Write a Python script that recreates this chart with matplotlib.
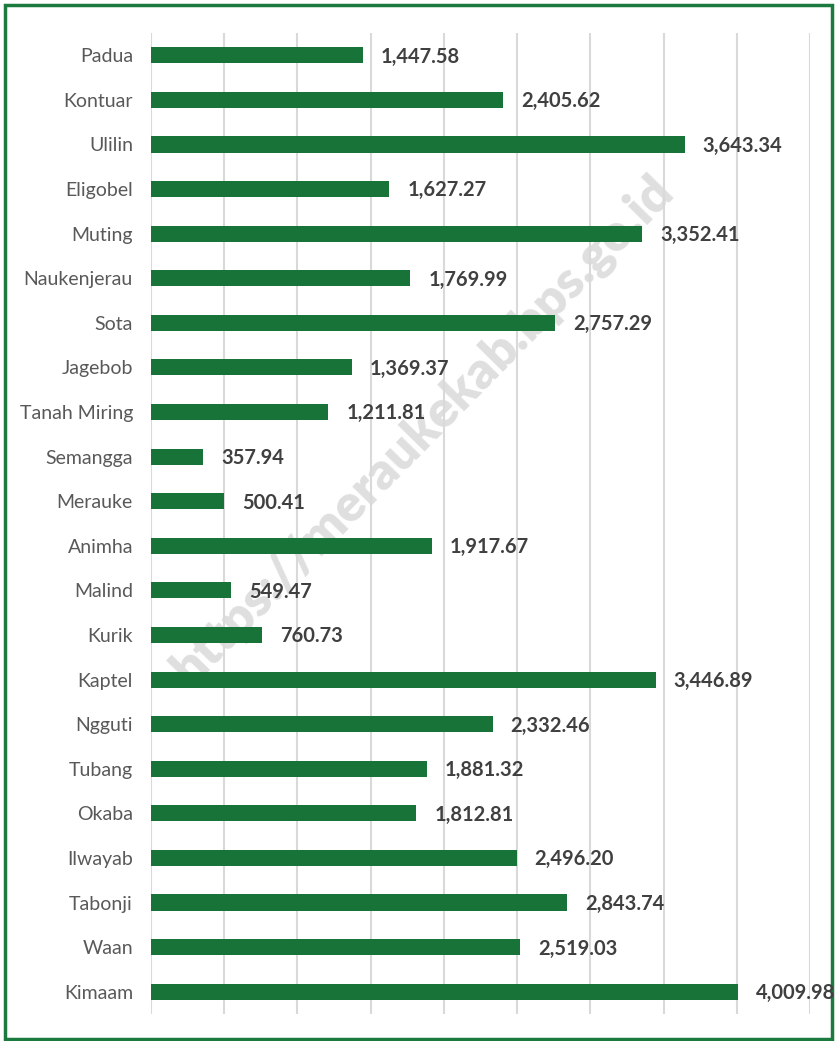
import matplotlib
matplotlib.use("Agg")
import matplotlib.pyplot as plt
from matplotlib.patches import Rectangle

categories = ["Padua", "Kontuar", "Ulilin", "Eligobel", "Muting", "Naukenjerau", "Sota",
              "Jagebob", "Tanah Miring", "Semangga", "Merauke", "Animha", "Malind", "Kurik",
              "Kaptel", "Ngguti", "Tubang", "Okaba", "Ilwayab", "Tabonji", "Waan", "Kimaam"]
values = [1447.58, 2405.62, 3643.34, 1627.27, 3352.41, 1769.99, 2757.29,
          1369.37, 1211.81, 357.94, 500.41, 1917.67, 549.47, 760.73,
          3446.89, 2332.46, 1881.32, 1812.81, 2496.20, 2843.74, 2519.03, 4009.98]

plt.rcParams['font.family'] = ['Lato', 'DejaVu Sans']

W, H = 835, 1041
fig = plt.figure(figsize=(W / 100, H / 100), dpi=100)
ax = fig.add_axes([151 / W, 1 - 1014 / H, (810 - 151) / W, (1014 - 33) / H])

bar_color = "#177337"
ypos = list(range(len(categories)))
ax.barh(ypos, values, height=0.36, color=bar_color, zorder=3)
ax.set_ylim(len(categories) - 0.5, -0.5)
ax.set_xlim(0, 4500)
ax.set_xticks(range(0, 4501, 500))
ax.set_xticklabels([])
ax.tick_params(axis='x', length=0)
ax.tick_params(axis='y', length=0, pad=13)
ax.set_yticks(ypos)
ax.set_yticklabels(categories, fontsize=14, color="#595959")
ax.grid(axis='x', color="#d9d9d9", linewidth=1.5, zorder=0)
for s in ax.spines.values():
    s.set_visible(False)

for y, v in zip(ypos, values):
    ax.annotate(f"{v:,.2f}", (v, y), xytext=(13, -1), textcoords="offset points",
                ha="left", va="center", fontsize=14.5, fontweight="bold", color="#404040",
                zorder=4)

fig.text(422 / W, 1 - 430 / H, "https://meraukekab.bps.go.id", rotation=45.5,
         ha="center", va="center", fontsize=37, fontweight="heavy", color="#dfdfdf",
         zorder=1, rotation_mode="anchor")
ax.set_zorder(2)
ax.patch.set_alpha(0)

fig.patches.append(Rectangle((5 / W, 2 / H), (832 - 5) / W, (1038 - 4) / H,
                             transform=fig.transFigure, fill=False,
                             edgecolor="#1b7a3e", linewidth=2.5))

fig.savefig("out.png", dpi=100)
